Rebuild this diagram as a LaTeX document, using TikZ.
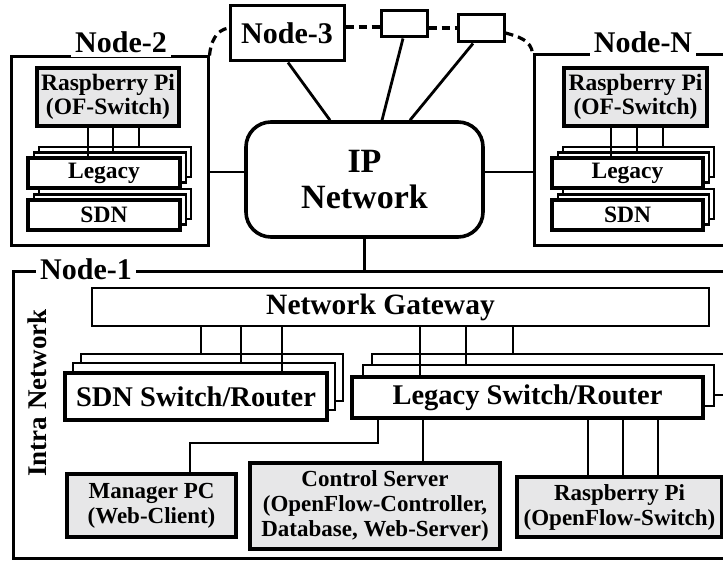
\documentclass[tikz,border=0pt]{standalone}
\usepackage{fontspec}
\setmainfont{Liberation Serif}
\usetikzlibrary{positioning}
\definecolor{boxgray}{RGB}{231,231,232}
\newcommand\fstitle{\fontsize{30}{32}\selectfont}
\newcommand\fsip{\fontsize{34}{37}\selectfont}
\newcommand\fsgate{\fontsize{29.5}{31}\selectfont}
\newcommand\fsswitch{\fontsize{28.5}{30}\selectfont}
\newcommand\fssmall{\fontsize{23.5}{24.5}\selectfont}
\newcommand\fsbox{\fontsize{23}{25}\selectfont}
\tikzset{
  wh/.style 2 args={minimum width=#1pt, minimum height=#2pt},
  frame/.style={draw, line width=3pt, inner sep=0pt},
  title/.style={fill=white, inner xsep=4pt, inner ysep=4pt, anchor=base, font=\bfseries\fstitle},
  pibox/.style={draw, fill=boxgray, line width=4pt, inner sep=0pt, align=center},
  unit/.style={draw, fill=white, line width=3.4pt, inner sep=0pt, font=\bfseries\fssmall},
  backcopy/.style={draw, fill=white, line width=2.2pt, inner sep=0pt},
  link/.style={line width=2.8pt},
  hop/.style={line width=3.2pt, dash pattern=on 8pt off 5pt}
}
\begin{document}
\begin{tikzpicture}[x=1pt, y=-1pt]
    \useasboundingbox (0,0) rectangle (723,561);
    \clip (0,0) rectangle (723,561);
    % wide area
    \node[draw, rounded corners=25pt, line width=3.6pt, wh={237}{115}, align=center, font=\bfseries\fsip] (ip) at (364.5,179.5) {IP\\[-1pt]Network};
    \node[draw, line width=3pt, wh={114}{55}, font=\bfseries\fstitle] (n3) at (287,33.5) {Node-3};
    \node[draw, line width=3pt, wh={46}{26}] (hopa) at (404,24) {};
    \node[draw, line width=3pt, wh={46}{27}] (hopb) at (481,28.5) {};
    \draw[hop] (n3.east |- 0,27) -- (hopa.west |- 0,27);
    \draw[hop] (hopa.east |- 0,28) -- (hopb.west |- 0,28);
    \draw[link] (n3.south -| 288,0) -- (ip.north -| 330,0);
    \draw[link] (hopa.south -| 403,0) -- (ip.north -| 382,0);
    \draw[link] (hopb.south -| 473,0) -- (ip.north -| 410,0);

    % Node-2
    \node[frame, wh={197}{189}] (node2) at (109.5,151.5) {};
    \node[title] (t2) at (121,53) {Node-2};
    \node[pibox, wh={142}{58}, font=\bfseries\fssmall] (pi2) at (108,97) {Raspberry Pi\\(OF-Switch)};
    \node[backcopy, wh={152}{30}] (leg2c) at (115,162) {};
    \node[backcopy, wh={152}{30}] (leg2b) at (110,167.5) {};
    \node[unit, wh={152}{30}] (leg2) at (104,173) {Legacy};
    \node[backcopy, wh={152}{30}] (sdn2c) at (115,204) {};
    \node[backcopy, wh={152}{30}] (sdn2b) at (110,209.5) {};
    \node[unit, wh={152}{30}] (sdn2) at (104,215) {SDN};
    \draw[link] (pi2.south -| 88,0) -- (leg2.north -| 88,0);
    \draw[link] (pi2.south -| 113,0) -- (leg2b.north -| 113,0);
    \draw[link] (pi2.south -| 139,0) -- (leg2c.north -| 139,0);

    % Node-N
    \node[frame, wh={226}{191}] (nodeN) at (647,150.5) {};
    \node[title] (tN) at (643,53) {Node-N};
    \node[pibox, wh={143}{58}, font=\bfseries\fssmall] (piN) at (635.5,97) {Raspberry Pi\\(OF-Switch)};
    \node[backcopy, wh={151}{30}] (legNc) at (638.5,162) {};
    \node[backcopy, wh={151}{30}] (legNb) at (633.5,167.5) {};
    \node[unit, wh={151}{30}] (legN) at (627.5,173) {Legacy};
    \node[backcopy, wh={151}{30}] (sdnNc) at (638.5,204) {};
    \node[backcopy, wh={151}{30}] (sdnNb) at (633.5,209.5) {};
    \node[unit, wh={151}{30}] (sdnN) at (627.5,215) {SDN};
    \draw[link] (piN.south -| 611,0) -- (legN.north -| 611,0);
    \draw[link] (piN.south -| 637,0) -- (legNb.north -| 637,0);
    \draw[link] (piN.south -| 663,0) -- (legNc.north -| 663,0);

    \draw[hop] (node2.north east) to[out=85,in=190] (n3.west |- 0,28);
    \draw[hop] (hopb.east |- 0,33) to[out=-15,in=95] (nodeN.north west);
    \draw[link] (node2.east |- 0,172) -- (ip.west |- 0,172);
    \draw[link] (ip.east |- 0,172) -- (nodeN.west |- 0,172);

    % Node-1
    \node[frame, wh={747}{286}] (node1) at (386.5,415) {};
    \node[title] (t1) at (86,280) {Node-1};
    \draw[link] (ip.south) -- (ip.south |- node1.north);
    \node[rotate=90, font=\bfseries\fontsize{27}{29}\selectfont] (intra) at (37,393) {Intra Network};
    \node[draw, line width=2.6pt, wh={617}{38}, label={[xshift=-20pt, font=\bfseries\fsgate]center:Network Gateway}] (gw) at (400.5,307) {};

    \node[backcopy, line width=2.6pt, wh={262}{47}] (sdn1c) at (212,377.5) {};
    \node[backcopy, line width=2.6pt, wh={262}{47}] (sdn1b) at (204,386.5) {};
    \node[unit, line width=4.2pt, wh={262}{47}, font=\bfseries\fsswitch] (sdn1) at (196,396.5) {SDN Switch/Router};
    \node[backcopy, line width=2.6pt, wh={370}{41}] (leg1c) at (557,374.5) {};
    \node[backcopy, line width=2.6pt, wh={351}{41}] (leg1b) at (538.5,385.5) {};
    \node[unit, line width=3.4pt, wh={351}{41}, font=\bfseries\fsswitch] (leg1) at (527.5,397.5) {Legacy Switch/Router};
    \draw[link] (gw.south -| 201,0) -- (sdn1c.north -| 201,0);
    \draw[link] (gw.south -| 241,0) -- (sdn1b.north -| 241,0);
    \draw[link] (gw.south -| 282,0) -- (sdn1.north -| 282,0);
    \draw[link] (gw.south -| 420,0) -- (leg1.north -| 420,0);
    \draw[link] (gw.south -| 466,0) -- (leg1b.north -| 466,0);
    \draw[link] (gw.south -| 513,0) -- (leg1c.north -| 513,0);

    \node[pibox, wh={169}{63}, font=\bfseries\fsbox] (mgr) at (151.5,505.5) {Manager PC\\(Web-Client)};
    \node[pibox, line width=4.6pt, wh={250}{86}, font=\bfseries\fsbox] (ctrl) at (375,506) {Control Server\\(OpenFlow-Controller,\\Database, Web-Server)};
    \node[pibox, wh={205}{60}, font=\bfseries\fsbox] (pi1) at (619.5,507) {Raspberry Pi\\(OpenFlow-Switch)};
    \draw[link] (leg1.south -| 378,0) -- (378,443) -| (mgr.north -| 190,0);
    \draw[link] (leg1.south -| 423,0) -- (ctrl.north -| 423,0);
    \draw[link] (leg1.south -| 588,0) -- (pi1.north -| 588,0);
    \draw[link] (leg1.south -| 623,0) -- (pi1.north -| 623,0);
    \draw[link] (leg1.south -| 658,0) -- (pi1.north -| 658,0);
\end{tikzpicture}
\end{document}
